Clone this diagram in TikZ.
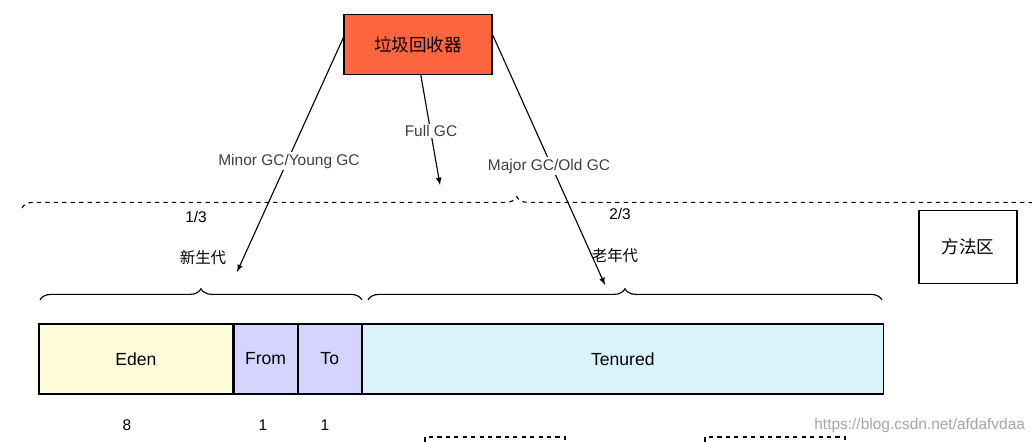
\documentclass[tikz,border=0pt]{standalone}
\usepackage{fontspec}
\setmainfont{Liberation Sans}
\newfontfamily\cjk{Noto Sans CJK SC}
\usetikzlibrary{positioning,arrows,decorations.pathreplacing}

\begin{document}
\begin{tikzpicture}[x=0.025cm,y=-0.025cm,font=\fontsize{11}{13}\selectfont,
  block/.style={draw,rectangle,inner sep=0pt,thick,font=\fontsize{12.5}{14}\selectfont},
  arrow/.style={draw=black, -latex, thick},
  lbl/.style={fill=white,inner sep=1pt,text=black!75},
  brace/.style={draw,thick,decorate,decoration={brace,amplitude=8pt}}]
  \useasboundingbox (0,0) rectangle (1032,441);

  \node[block,fill=red!60!orange!75,minimum width=148*0.025cm,minimum height=60*0.025cm] (gc) at (418,44.5) {\cjk 垃圾回收器};

  % heap
  \node[block,fill=yellow!15,minimum width=194*0.025cm,minimum height=70*0.025cm] (eden) at (136,359) {Eden};
  \node[block,fill=blue!17,minimum width=63*0.025cm,minimum height=70*0.025cm,right=0pt of eden] (from) {From};
  \node[block,fill=blue!17,minimum width=63*0.025cm,minimum height=70*0.025cm,right=0pt of from] (to) {To};
  \node[block,fill=cyan!15,minimum width=521*0.025cm,minimum height=70*0.025cm,right=0pt of to] (tenured) {Tenured};
  \node[block,minimum width=98*0.025cm,minimum height=73*0.025cm] (method) at (968,247) {\cjk 方法区};

  \node (n8) at (127,425) {8};
  \node (n1a) at (263,425) {1};
  \node (n1b) at (325,425) {1};

  % braces
  \coordinate (ya) at (40,300);
  \coordinate (yb) at (362,300);
  \coordinate (oa) at (368,300);
  \coordinate (ob) at (882,300);
  \draw[brace] (ya) -- (yb);
  \draw[brace] (oa) -- (ob);
  \coordinate (ha) at (22,208);
  \coordinate (hb) at (1040,208);
  \draw[brace,dashed,decoration={aspect=0.486}] (ha) -- (hb);

  \node (young) at (203,258) {\cjk 新生代};
  \node (old) at (615,256) {\cjk 老年代};
  \node (r13) at (196,217) {1/3};
  \node (r23) at (620,214) {2/3};

  % collectors
  \coordinate (minorEnd) at (237,272);
  \coordinate (fullEnd) at (440,185);
  \coordinate (majorEnd) at (605,285);
  \draw[arrow] ([yshift=5pt]gc.west) -- (minorEnd);
  \draw[arrow] ([xshift=2pt]gc.south) -- (fullEnd);
  \draw[arrow] ([yshift=7pt]gc.east) -- (majorEnd);
  \node[lbl] at (289,161) {Minor GC/Young GC};
  \node[lbl] at (431,131) {Full GC};
  \node[lbl] at (549,166) {Major GC/Old GC};

  % lower regions
  \draw[thick,dashed] (425,450) |- (565,437) -- (565,450);
  \draw[thick,dashed] (705,450) |- (845,437) -- (845,450);
  \node[text=black!35,anchor=east] (mark) at (1030,425) {https://blog.csdn.net/afdafvdaa};
\end{tikzpicture}
\end{document}
